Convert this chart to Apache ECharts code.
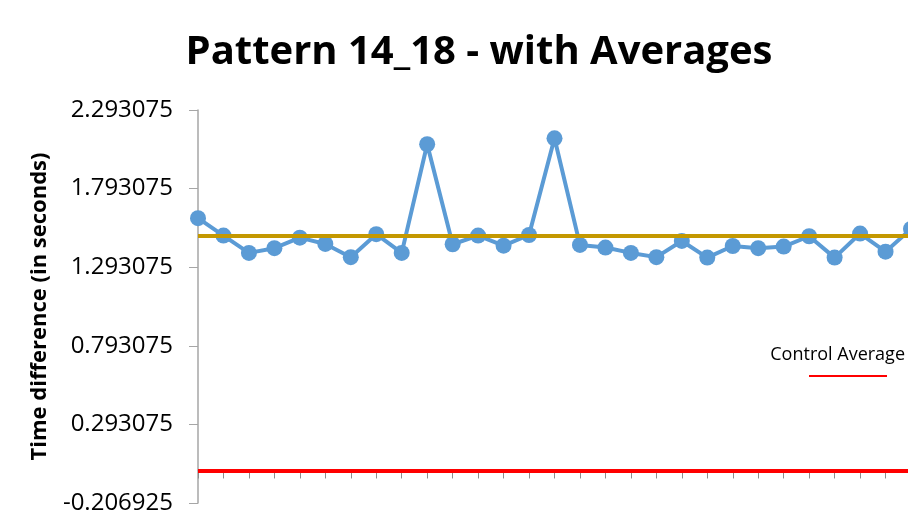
<!DOCTYPE html>
<html>
<head>
<meta charset="utf-8">
<script src="https://cdn.jsdelivr.net/npm/echarts@6/dist/echarts.min.js"></script>
<style>
  html, body { margin: 0; padding: 0; background: #fff; }
  #chart { width: 908px; height: 513px; }
</style>
</head>
<body>
<div id="chart"></div>
<script>
// Trial numbers along the horizontal axis (labels are not shown)
const trials = ['1','2','3','4','5','6','7','8','9','10','11','12','13','14','15',
                '16','17','18','19','20','21','22','23','24','25','26','27','28','29'];

// Measured time differences, in seconds
const timeDiff = [1.605, 1.494, 1.384, 1.414, 1.481, 1.441, 1.357, 1.503, 1.384, 2.075,
                  1.439, 1.494, 1.430, 1.498, 2.113, 1.435, 1.418, 1.384, 1.357, 1.460,
                  1.354, 1.428, 1.414, 1.424, 1.490, 1.354, 1.507, 1.392, 1.536];

// Reference averages
const patternAverage = 1.486;
const controlAverage = 0.003;

// Value-axis range and tick labels
const yMin = -0.206925;
const yMax = 2.293075;
const yStep = 0.5;
const yTickLabels = ['-0.206925', '0.293075', '0.793075', '1.293075', '1.793075', '2.293075'];

const FONT = 'Open Sans';

const chart = echarts.init(document.getElementById('chart'), null, { renderer: 'canvas' });

chart.setOption({
  backgroundColor: '#ffffff',
  animation: false,
  title: {
    text: 'Pattern 14_18 - with Averages',
    left: 474,
    top: 28,
    textAlign: 'center',
    textStyle: { fontFamily: FONT, fontWeight: 'bold', fontSize: 40, color: '#000000' }
  },
  // the plot area runs a little past the right edge of the page
  grid: { left: 198, top: 110, width: 713, bottom: 10, containLabel: false, outerBoundsMode: 'none' },
  xAxis: {
    type: 'category',
    data: trials,
    boundaryGap: false,
    axisLine: { onZero: true, lineStyle: { color: '#a6a6a6', width: 1 } },
    axisTick: { show: true, length: 8, lineStyle: { color: '#8c8c8c', width: 1 } },
    axisLabel: { show: false },
    splitLine: { show: false }
  },
  yAxis: {
    type: 'value',
    min: yMin,
    max: yMax,
    interval: yStep,
    name: 'Time difference (in seconds)',
    nameLocation: 'middle',
    nameRotate: 90,
    nameGap: 147,
    nameTextStyle: { fontFamily: FONT, fontWeight: 'bold', fontSize: 22, color: '#000000' },
    axisLine: { show: true, lineStyle: { color: '#a6a6a6', width: 1.5 } },
    axisTick: { show: true, length: 9, lineStyle: { color: '#a6a6a6', width: 1 } },
    axisLabel: {
      margin: 25,
      fontFamily: FONT,
      fontSize: 24,
      color: '#000000',
      formatter: function (v, i) { return yTickLabels[i] !== undefined ? yTickLabels[i] : ''; }
    },
    splitLine: { show: false }
  },
  series: [
    {
      name: 'Pattern 14_18',
      type: 'line',
      data: timeDiff,
      z: 2,
      symbol: 'circle',
      symbolSize: 16,
      lineStyle: { color: '#5b9bd5', width: 4 },
      itemStyle: { color: '#5b9bd5' },
      clip: false
    },
    {
      name: 'Pattern Average',
      type: 'line',
      data: [],
      z: 3,
      markLine: {
        silent: true,
        symbol: 'none',
        label: { show: false },
        lineStyle: { color: '#c49800', width: 4, type: 'solid' },
        data: [{ yAxis: patternAverage }]
      }
    },
    {
      name: 'Control Average',
      type: 'line',
      data: [],
      z: 3,
      markLine: {
        silent: true,
        symbol: 'none',
        label: { show: false },
        lineStyle: { color: '#ff0000', width: 4, type: 'solid' },
        data: [{ yAxis: controlAverage }]
      }
    }
  ],
  graphic: [
    {
      type: 'text',
      right: 3,
      top: 346,
      style: { text: 'Control Average', fontFamily: FONT, fontSize: 18, fill: '#000000' }
    },
    {
      type: 'line',
      shape: { x1: 809, y1: 376, x2: 887, y2: 376 },
      style: { stroke: '#ff0000', lineWidth: 2 }
    }
  ]
});
</script>
</body>
</html>
